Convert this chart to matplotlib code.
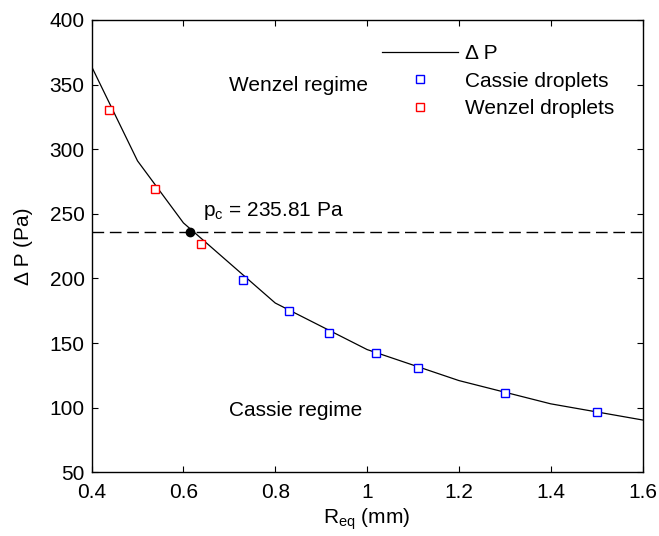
"""Delta P vs R_eq with Cassie / Wenzel droplets"""
import matplotlib
matplotlib.use('Agg')
import matplotlib.pyplot as plt
from matplotlib.lines import Line2D

plt.rcParams['font.family'] = ['Liberation Sans', 'DejaVu Sans']
plt.rcParams['mathtext.fontset'] = 'custom'
plt.rcParams['mathtext.rm'] = 'Liberation Sans'
plt.rcParams['mathtext.it'] = 'Liberation Sans:italic'

# curve Delta P (Pa) vs R_eq (mm)
r_curve = [0.4, 0.5, 0.6, 0.8, 1.0, 1.2, 1.4, 1.6]
dp_curve = [364, 291, 243, 181, 145, 121, 103, 90.5]

# measured droplets
r_cassie = [0.73, 0.83, 0.918, 1.02, 1.11, 1.30, 1.50]
dp_cassie = [198.7, 174.5, 157.5, 142, 130.5, 111, 96.5]
r_wenzel = [0.438, 0.539, 0.639]
dp_wenzel = [330.5, 269, 227]

# critical point
r_c = 0.615
p_c = 235.81

font_size = 15

fig = plt.figure(figsize=(6.59, 5.36), dpi=100)
ax = fig.add_axes([0.139, 0.1188, 0.836, 0.8439])

p_line, = ax.plot(r_curve, dp_curve, color='black', linewidth=0.9)
ax.axhline(p_c, color='black', linewidth=1.0, dashes=(8.4, 4.1))
p_cas, = ax.plot(r_cassie, dp_cassie, 's', mfc='white', mec='blue', ms=5.5, mew=1.0,
                 linestyle='none')
p_wen, = ax.plot(r_wenzel, dp_wenzel, 's', mfc='white', mec='red', ms=5.5, mew=1.0,
                 linestyle='none')
ax.plot([r_c], [p_c], 'o', color='black', ms=6)

# text annotations
ax.text(0.70, 349, 'Wenzel regime', fontsize=font_size, va='center')
ax.text(0.70, 98, 'Cassie regime', fontsize=font_size, va='center')
ax.text(0.643, 252, 'p$_{\\mathrm{c}}$ = 235.81 Pa', fontsize=font_size, va='center')

ax.set_xlim(0.4, 1.6)
ax.set_ylim(50, 400)
ax.set_xticks([0.4, 0.6, 0.8, 1.0, 1.2, 1.4, 1.6])
ax.set_xticklabels(['0.4', '0.6', '0.8', '1', '1.2', '1.4', '1.6'])
ax.set_yticks(range(50, 401, 50))
ax.tick_params(direction='in', top=True, right=True, length=4, width=0.8,
               labelsize=font_size)
ax.tick_params(axis='x', pad=8)
ax.tick_params(axis='y', pad=5)
for s in ax.spines.values():
    s.set_linewidth(1.0)

ax.set_xlabel('R$_{\\mathrm{eq}}$ (mm)', fontsize=font_size, labelpad=3)
ax.set_ylabel('\u0394 P (Pa)', fontsize=font_size, labelpad=12)

# legend: marker-only entries show one marker in the middle
h_cas = Line2D([], [], marker='s', mfc='white', mec='blue', ms=5.5, mew=1.0, linestyle='none')
h_wen = Line2D([], [], marker='s', mfc='white', mec='red', ms=5.5, mew=1.0, linestyle='none')
ax.legend([p_line, h_cas, h_wen], ['\u0394 P', 'Cassie droplets', 'Wenzel droplets'],
          loc='upper left', bbox_to_anchor=(381.7 / 659, 1 - 44.2 / 536),
          bbox_transform=fig.transFigure, frameon=False, fontsize=font_size,
          handlelength=3.68, handletextpad=0.32, labelspacing=0.41,
          borderpad=0, borderaxespad=0, numpoints=1)

plt.savefig('out.png', dpi=100)
